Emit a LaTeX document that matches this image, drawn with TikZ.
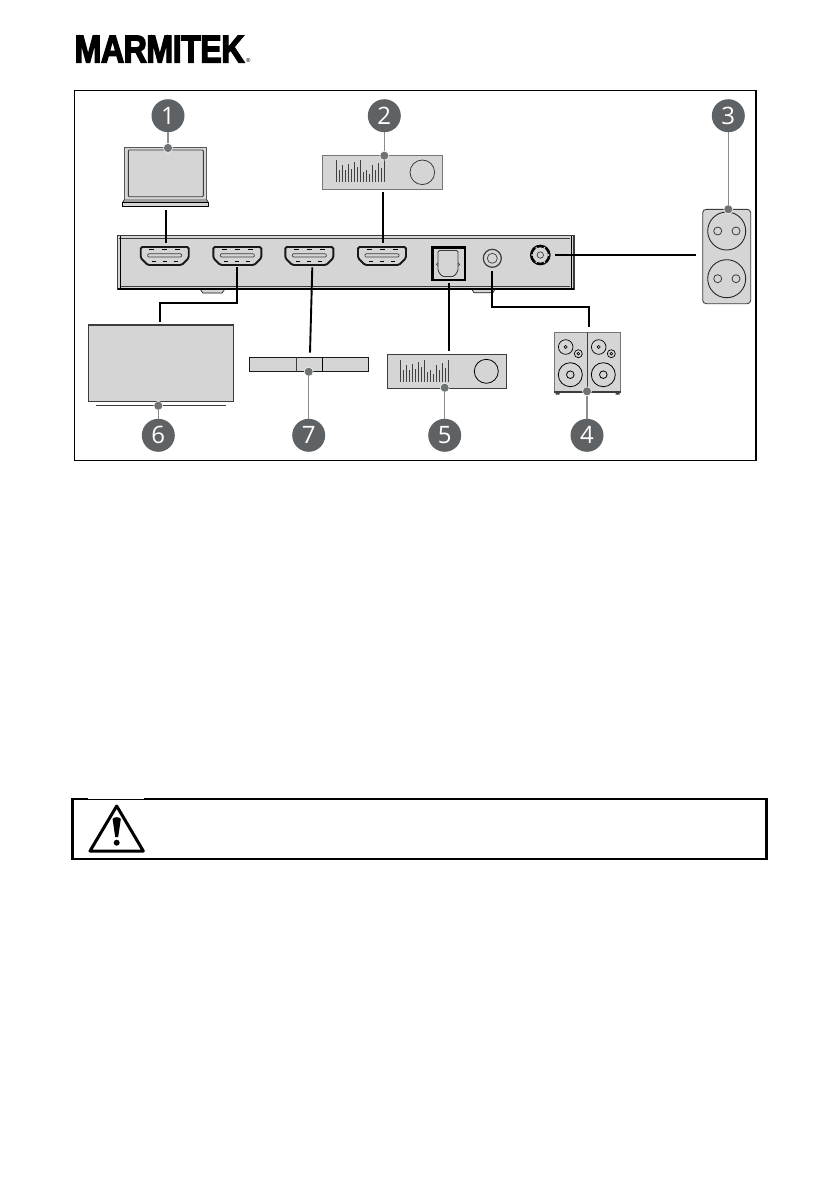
\documentclass[tikz,border=0pt]{standalone}
\usepackage{fontspec}
\setmainfont{Open Sans}
\newfontfamily\logofont[FakeBold=3.8,LetterSpace=-1.5]{Liberation Sans Bold}
\definecolor{devfill}{HTML}{D5D5D5}
\definecolor{devline}{HTML}{3C3C3C}
\definecolor{badge}{HTML}{5F6264}
\definecolor{lead}{HTML}{8E8E8E}
\tikzset{
  dev/.style={fill=devfill,draw=devline,line width=1pt},
  cable/.style={draw=black,line width=1.9pt,line join=miter},
  leader/.style={draw=lead,line width=1.2pt},
  numbadge/.style={circle,fill=badge,text=white,minimum size=33pt,inner sep=0pt,font=\fontsize{24}{24}\selectfont},
  anchordot/.style={circle,fill=badge!90!white,draw=white,line width=0.5pt,minimum size=9pt,inner sep=0pt},
  pics/hdmi/.style={code={
    \draw[fill=devfill,draw=black!90,line width=1.9pt,rounded corners=1.5pt]
      (-24,-9)--(24,-9)--(24,2)--(17,9)--(-17,9)--(-24,2)--cycle;
    \draw[draw=devline,line width=0.7pt,rounded corners=1pt]
      (-17,-2.2)--(17,-2.2)--(17,1)--(-17,1)--cycle;
    \foreach \tx in {-13,0,13}{\draw[black,line width=1.1pt] (\tx-2.5,-6.6)--(\tx+2.5,-6.6);}
    \foreach \tx in {-11,0,11}{\draw[black,line width=1pt] (\tx-2,5.5)--(\tx+2,5.5);}
  }},
  pics/bars/.style={code={
    \foreach \i/\h in {0/22,1/12,2/17,3/12,4/18,5/13,6/20,7/15,8/22,9/10,10/12,11/8,12/17,13/12,14/19,15/14,16/22}{
      \draw[draw=black!75,line width=0.9pt] (\i*3,22)--(\i*3,22-\h);
    }
  }},
  pics/spk/.style={code={
    \draw[line width=0.7pt,black] (0,-27.7) circle (7.3);
    \draw[line width=0.6pt,black] (0,-27.7) circle (1.6);
    \draw[line width=0.7pt,black] (12.6,-21) circle (4);
    \draw[line width=0.6pt,black] (12.6,-21) circle (1.4);
    \draw[line width=0.8pt,black] (4.6,0) circle (12);
    \draw[line width=0.8pt,black] (4.6,0) circle (3.8);
  }}
}
\begin{document}
\begin{tikzpicture}[x=1pt,y=-1pt]
\useasboundingbox (0,0) rectangle (839,1191);
\fill[white] (0,0) rectangle (839,1191);

% logo
\node[inner sep=0pt,anchor=base west,xscale=0.835] (logo) at (74.5,62.3)
  {\logofont\fontsize{38.5}{38.5}\selectfont MARMITEK};
\node[inner sep=0pt,anchor=base] (reg) at (248.5,62.5) {\fontsize{5.5}{5.5}\selectfont ®};

% frame
\draw[black,line width=1pt] (74,90.5)--(755,90.5);
\draw[black,line width=1pt] (74,90.5)--(74,460)--(755,460);
\draw[black,line width=2pt] (755.5,89.9)--(755.5,460.5);

% switch body
\draw[dev,draw=black!70!devline,line width=0.6pt] (200,289)--(203,293)--(222,293)--(225,289);
\draw[dev,draw=black!70!devline,line width=0.6pt] (471.7,289)--(474,292.7)--(493,292.7)--(495,289);
\draw[dev,line width=1.1pt] (117.5,235.5)--(574,235.5)--(574,289)--(117.5,289)--cycle;
\draw[devline,line width=0.6pt] (119,238)--(570,238);
\draw[black,line width=1.2pt] (117.5,289)--(574,289);
\draw[devline,line width=0.6pt] (120,286.5)--(570,286.5);
\draw[black,line width=0.8pt] (120,236)--(120,289);
\draw[black,line width=1pt] (571,236)--(571,289);

% hdmi ports
\path (164.7,256) pic {hdmi} coordinate (p1);
\path (237.3,256) pic {hdmi} coordinate (p2);
\path (309.3,256) pic {hdmi} coordinate (p3);
\path (382,256) pic {hdmi} coordinate (p4);

% optical
\draw[fill=devfill,draw=black,line width=2.2pt] (432.5,247.5) rectangle (465,280);
\draw[fill=devfill,draw=devline,line width=0.9pt,rounded corners=1.5pt]
  (438,250.5)--(458,250.5)--(458,271)--(454,276.5)--(442,276.5)--(438,271)--cycle;
\draw[devline,line width=0.7pt] (438,266) arc (90:270:1.6);
\draw[devline,line width=0.7pt] (458,266) arc (90:-90:1.6);

% jack
\draw[fill=devfill,draw=devline,line width=1.2pt] (492.3,258.3) circle (9);
\draw[draw=devline,line width=0.7pt] (492.3,258.3) circle (5);

% dc
\draw[fill=devfill,draw=black,line width=2.6pt] (540.3,255) circle (9);
\draw[fill=devfill,draw=devline,line width=0.7pt] (540.3,255) circle (3.2);
\foreach \a in {0,60,120,180,240,300}{\fill[devfill] (540.3,255)+(\a:8.2) circle (1);}

% laptop
\draw[fill=devfill,draw=devline!85,line width=0.9pt] (124.3,200)--(124.3,147.3)--(206.7,147.3)--(206.7,200);
\draw[fill=devfill,draw=devline,line width=0.9pt,rounded corners=1pt] (128.3,150) rectangle (203.3,196.7);
\draw[fill=devfill,draw=devline,line width=0.7pt] (124,200)--(207,200)--(208,202)--(123,202)--cycle;
\draw[fill=devfill,draw=black,line width=0.8pt] (122.7,202) rectangle (208,206.7);

% device 2
\draw[dev,draw=devline!70,line width=0.9pt] (322.7,155) rectangle (442.3,189.3);
\path (336,160) pic {bars};
\draw[draw=devline,line width=0.8pt] (422.3,172.3) circle (12.3);

% socket
\draw[dev,draw=devline,line width=0.9pt,rounded corners=3.5pt] (702.7,209.3) rectangle (750.7,303.7);
\foreach \cy in {231,278.7}{
  \draw[draw=black!85,line width=0.9pt] (726.7,\cy) circle (19);
  \draw[draw=devline,line width=0.8pt] (717.7,\cy) circle (4);
  \draw[draw=devline,line width=0.8pt] (736,\cy) circle (4);
}

% tv
\draw[dev,draw=devline,line width=1.1pt] (88.7,325) rectangle (233.3,401.7);
\draw[draw=devline,line width=0.8pt] (96,405.7)--(226,405.7);

% soundbar
\draw[dev,draw=black!90,line width=1.1pt] (249.3,357.3) rectangle (368.7,371.7);
\draw[devline,line width=1pt] (296.3,357.3)--(296.3,371.7);
\draw[black,line width=1pt] (322.3,357.3)--(322.3,371.7);

% device 5
\draw[dev,draw=devline,line width=1pt] (387,354.7) rectangle (506.7,388.3);
\path (400,359.5) pic {bars};
\draw[draw=black,line width=0.8pt] (486.3,371.3) circle (12);

% speakers
\draw[fill=devfill,draw=devline!70,line width=0.8pt] (554.3,332.3) rectangle (620.7,392);
\draw[devline,line width=1.2pt] (554.3,392)--(620.7,392);
\draw[devline,line width=0.8pt] (587.3,332.3)--(587.3,392);
\fill[black!75] (555.5,392) rectangle (559.5,394.5) (615.5,392) rectangle (619.5,394.5);
\path (565.7,374.7) pic {spk};
\path (598.7,374.7) pic {spk};

% connector end coordinates
\coordinate (c1a) at (166,210);      \coordinate (c1b) at (166,243.3);
\coordinate (c2a) at (383.3,192);    \coordinate (c2b) at (383.3,243.3);
\coordinate (c6a) at (237.3,267.3);  \coordinate (c6b) at (160,322.3);
\coordinate (c7a) at (312.3,267.3);  \coordinate (c7b) at (310,352.7);
\coordinate (c5a) at (448.7,283.3);  \coordinate (c5b) at (448.7,351);
\coordinate (c4a) at (492,271);      \coordinate (c4b) at (588.7,326.7);
\coordinate (c3a) at (555,255.3);    \coordinate (c3b) at (696,255.3);
\draw[cable] (c1a)--(c1b);
\draw[cable] (c2a)--(c2b);
\draw[cable] (c6a)--(237.3,302.7)--(160,302.7)--(c6b);
\draw[cable] (c7a)--(c7b);
\draw[cable] (c5a)--(c5b);
\draw[cable] (c4a)--(492,306.7)--(588.7,306.7)--(c4b);
\draw[cable] (c3a)--(c3b);

% badges
\node[numbadge] (b1) at (168,115.7) {1};
\node[numbadge] (b2) at (384.3,115.7) {2};
\node[numbadge] (b3) at (728.3,115.7) {3};
\node[numbadge] (b4) at (587,435.3) {4};
\node[numbadge] (b5) at (444.7,435.3) {5};
\node[numbadge] (b6) at (158.3,435.3) {6};
\node[numbadge] (b7) at (308.7,435.3) {7};
\node[anchordot] (d1) at (168,148) {};
\node[anchordot] (d2) at (384.3,155.7) {};
\node[anchordot] (d3) at (728.3,209.3) {};
\node[anchordot] (d4) at (587,391.3) {};
\node[anchordot] (d5) at (444.7,387.7) {};
\node[anchordot] (d6) at (158.3,405.7) {};
\node[anchordot] (d7) at (308.7,371.7) {};
\foreach \k in {1,...,7}{\draw[leader] (b\k)--(d\k);}

% warning box
\draw[black,line width=2.2pt] (72.5,799)--(766.5,799)--(766.5,859)--(72.5,859)--cycle;
\fill[white] (88,797.5) rectangle (144,798.8);
\draw[black,line width=3pt,line join=round] (116.7,806)--(143.3,851)--(90,851)--cycle;
\fill[black] (112.6,819) .. controls (113.5,816.6) and (119.9,816.6) .. (120.8,819) -- (118.2,837) -- (115.2,837) -- cycle;
\fill[black] (116.7,842.7) circle (3);
\end{tikzpicture}
\end{document}
